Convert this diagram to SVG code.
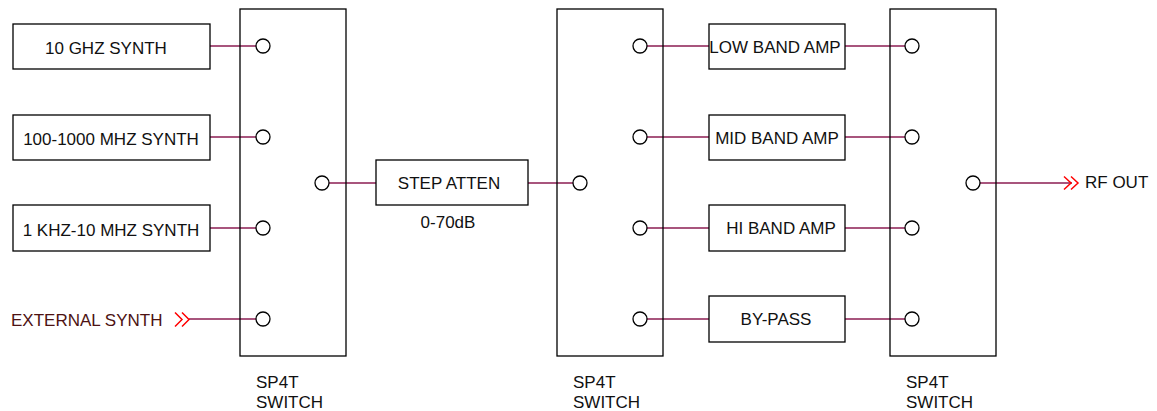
<svg xmlns="http://www.w3.org/2000/svg" width="1157" height="411" viewBox="0 0 1157 411">
<style>
.box{fill:#fff;stroke:#000;stroke-width:1.3}
.sw{fill:none;stroke:#000;stroke-width:1.3}
.pin{fill:#fff;stroke:#000;stroke-width:1.3}
.w{stroke:#8b1d52;stroke-width:1.5;fill:none}
.chev{stroke:#ff0000;stroke-width:1.5;fill:none}
text{font-family:"Liberation Sans",Arial,sans-serif;font-size:17px;fill:#111}
.c{text-anchor:middle}
</style>
<rect width="1157" height="411" fill="#fff"/>
<g id="connectors">
<line class="w" x1="210" y1="46" x2="256" y2="46"/>
<line class="w" x1="210" y1="137" x2="256" y2="137"/>
<line class="w" x1="210" y1="228" x2="256" y2="228"/>
<line class="w" x1="189" y1="319" x2="256" y2="319"/>
<line class="w" x1="329" y1="183" x2="376" y2="183"/>
<line class="w" x1="528" y1="183" x2="573" y2="183"/>
<line class="w" x1="647" y1="46" x2="709" y2="46"/>
<line class="w" x1="647" y1="137" x2="709" y2="137"/>
<line class="w" x1="647" y1="228" x2="709" y2="228"/>
<line class="w" x1="647" y1="319" x2="709" y2="319"/>
<line class="w" x1="845" y1="46" x2="905" y2="46"/>
<line class="w" x1="845" y1="137" x2="905" y2="137"/>
<line class="w" x1="845" y1="228" x2="905" y2="228"/>
<line class="w" x1="845" y1="319" x2="905" y2="319"/>
<line class="w" x1="980" y1="183" x2="1072" y2="183"/>
<polyline class="chev" points="175,312.5 182,319.5 175,326.5"/>
<polyline class="chev" points="182,312.5 189,319.5 182,326.5"/>
<polyline class="chev" points="1064,176.5 1071,183 1064,189.5"/>
<polyline class="chev" points="1071,176.5 1078,183 1071,189.5"/>
</g>
<g id="synth10g"><rect class="box" x="13" y="24" width="197" height="45"/><text x="45" y="54">10 GHZ SYNTH</text></g>
<g id="synth100m"><rect class="box" x="13" y="115" width="197" height="45"/><text x="111" y="145" class="c">100-1000 MHZ SYNTH</text></g>
<g id="synth1k"><rect class="box" x="13" y="205" width="197" height="46"/><text x="111" y="236" class="c">1 KHZ-10 MHZ SYNTH</text></g>
<g id="extsynth"><text x="11" y="326" style="fill:#4d1212">EXTERNAL SYNTH</text></g>
<g id="switch1">
<rect class="sw" x="240" y="9" width="106" height="347"/>
<circle class="pin" cx="263" cy="46" r="7"/>
<circle class="pin" cx="263" cy="137" r="7"/>
<circle class="pin" cx="263" cy="228" r="7"/>
<circle class="pin" cx="263" cy="319" r="7"/>
<circle class="pin" cx="322" cy="183" r="7"/>
<text x="256" y="388">SP4T</text><text x="256" y="408">SWITCH</text>
</g>
<g id="atten"><rect class="box" x="376" y="160" width="152" height="45"/><text x="449" y="189" class="c">STEP ATTEN</text><text x="448" y="228" class="c">0-70dB</text></g>
<g id="switch2">
<rect class="sw" x="557" y="9" width="106" height="347"/>
<circle class="pin" cx="580" cy="183" r="7"/>
<circle class="pin" cx="640" cy="46" r="7"/>
<circle class="pin" cx="640" cy="137" r="7"/>
<circle class="pin" cx="640" cy="228" r="7"/>
<circle class="pin" cx="640" cy="319" r="7"/>
<text x="573" y="388">SP4T</text><text x="573" y="408">SWITCH</text>
</g>
<g id="lowamp"><rect class="box" x="709" y="24" width="136" height="45"/><text x="775" y="53" class="c">LOW BAND AMP</text></g>
<g id="midamp"><rect class="box" x="709" y="115" width="136" height="45"/><text x="777" y="144" class="c">MID BAND AMP</text></g>
<g id="hiamp"><rect class="box" x="709" y="205" width="136" height="46"/><text x="781" y="234" class="c">HI BAND AMP</text></g>
<g id="bypass"><rect class="box" x="709" y="296" width="136" height="46"/><text x="776" y="325" class="c">BY-PASS</text></g>
<g id="switch3">
<rect class="sw" x="890" y="9" width="106" height="347"/>
<circle class="pin" cx="912" cy="46" r="7"/>
<circle class="pin" cx="912" cy="137" r="7"/>
<circle class="pin" cx="912" cy="228" r="7"/>
<circle class="pin" cx="912" cy="319" r="7"/>
<circle class="pin" cx="973" cy="183" r="7"/>
<text x="906" y="388">SP4T</text><text x="906" y="408">SWITCH</text>
</g>
<g id="rfout"><text x="1085" y="188">RF OUT</text></g>
</svg>
